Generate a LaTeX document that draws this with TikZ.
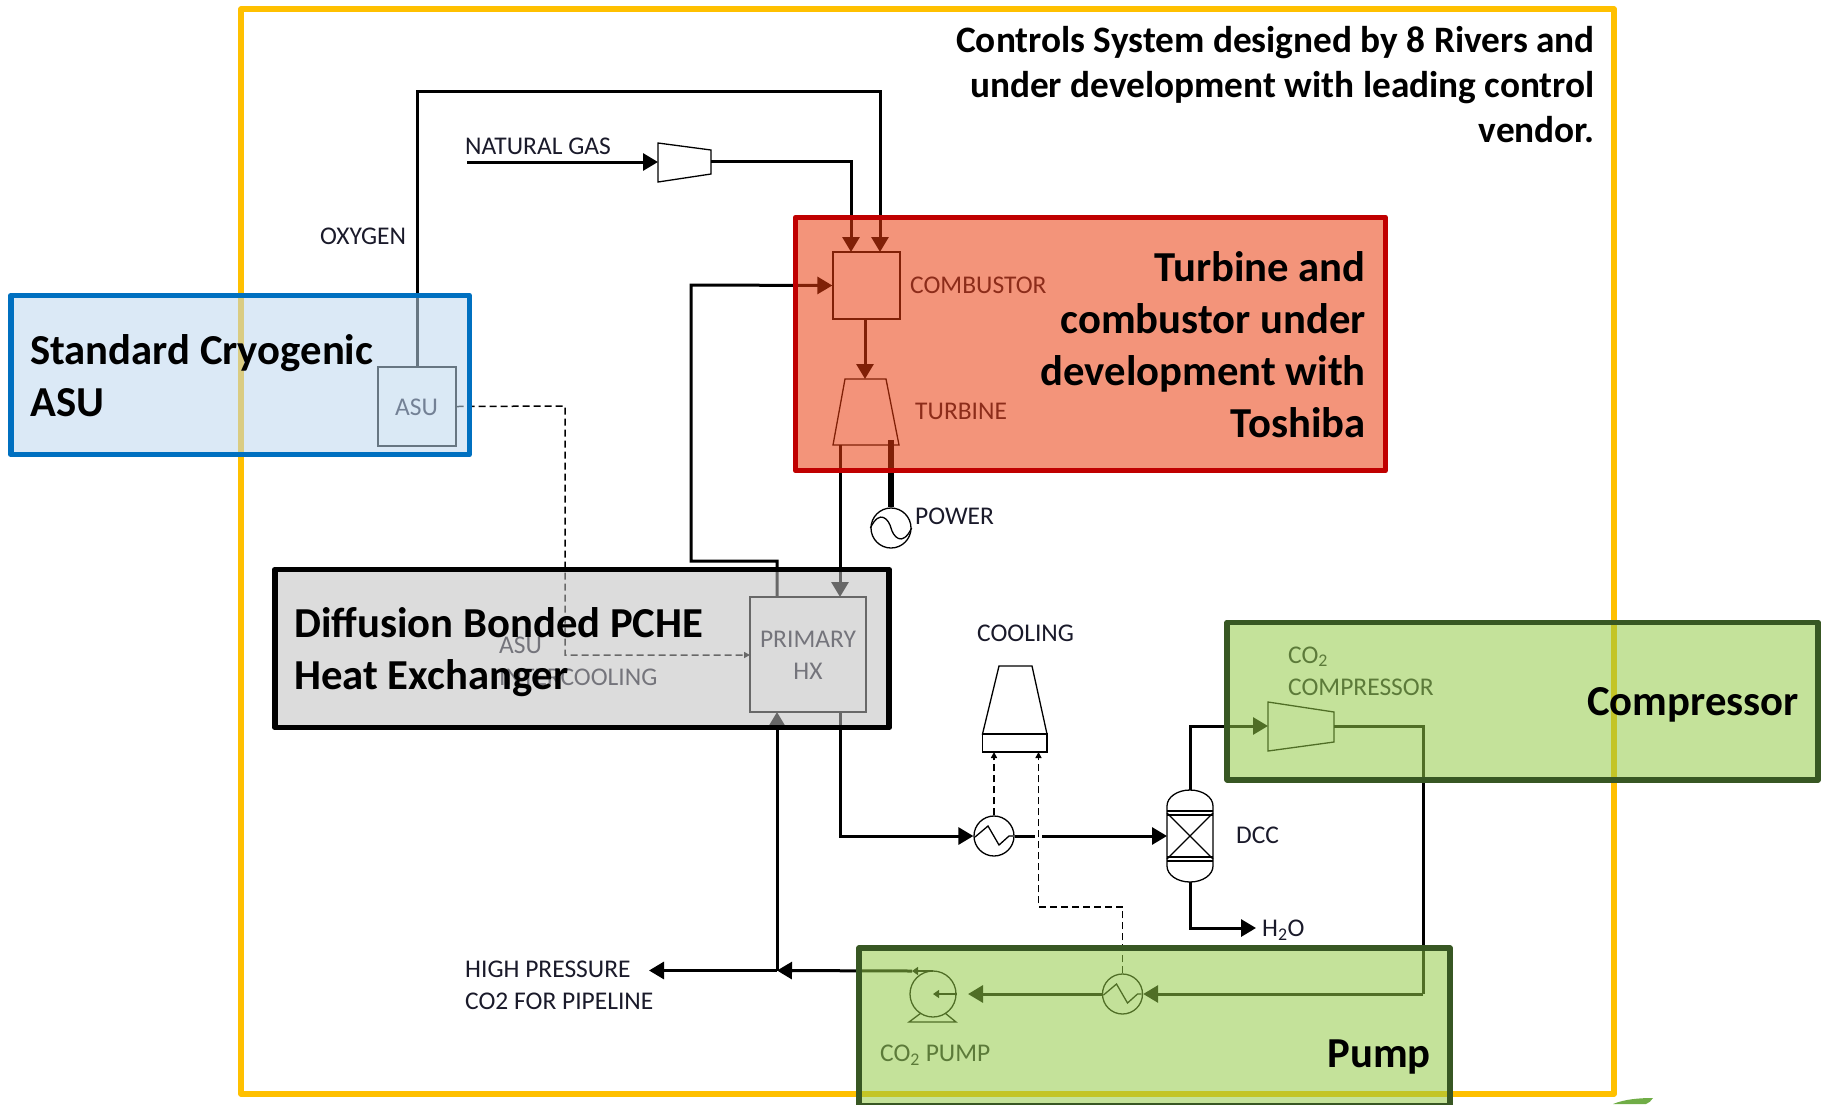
\documentclass[tikz,border=0pt]{standalone}
\usepackage{fontspec}
\setmainfont{Carlito}
\usetikzlibrary{arrows.meta,calc}
\definecolor{yframe}{HTML}{FFC000}
\definecolor{lab}{HTML}{1A1A2A}
\definecolor{tblue}{RGB}{189,215,238}
\definecolor{tred}{RGB}{234,60,13}
\definecolor{tgray}{RGB}{191,191,191}
\definecolor{tgreen}{RGB}{147,202,71}
\definecolor{eblue}{RGB}{0,112,192}
\definecolor{ered}{RGB}{192,0,0}
\definecolor{egreen}{RGB}{56,87,35}
\definecolor{leaf}{RGB}{112,173,71}
\tikzset{
  x=1pt,y=-1pt,
  flow/.style={line width=3pt,-{Triangle[length=15pt,width=17pt]}},
  plain/.style={line width=3pt},
  ctrl/.style={line width=1.5pt,dash pattern=on 7pt off 4pt},
  equip/.style={draw=black,line width=1.3pt,fill=white,inner sep=0pt},
  equipbox/.style={equip,rectangle},
  round eq/.style={equip,circle,minimum size=40pt},
  lbl/.style={font=\fontsize{25.5}{32}\selectfont,text=lab,inner sep=0pt,anchor=west},
  big/.style={font=\bfseries\fontsize{42.7}{52}\selectfont,text=black,inner sep=0pt,align=left},
  tint/.style={fill opacity=.55,draw=none},
  edge/.style={line width=5.5pt,line join=round,fill=none,inner sep=0pt},
}
\newcommand{\wavy}[1]{\draw[line width=1.3pt] ($(#1)+(-19,1)$) -- ($(#1)+(-6,-10)$) -- ($(#1)+(5,9)$) -- ($(#1)+(15,0)$) -- ($(#1)+(19,0)$);}
\begin{document}
\begin{tikzpicture}
\useasboundingbox (0,0) rectangle (1823,1104);
% outer frame
\draw[yframe,line width=5.5pt,line join=round] (241,9) rectangle (1614,1094);

% equipment
\node[equipbox,minimum width=78pt,minimum height=79pt] (asu) at (417,406.5) {};
\node[equipbox,minimum width=67pt,minimum height=67pt] (comb) at (866.5,285.5) {};
\node[equipbox,minimum width=116pt,minimum height=115pt] (hx) at (808,654.5) {};
\node[round eq] (gen) at (891,528) {};
\node[round eq] (hxa) at (994,836) {};
\node[round eq] (hxb) at (1122.5,994) {};
\node[equip,circle,minimum size=46pt] (pump) at (933,994) {};
\draw[line width=1.3pt] (gen.west) .. controls (880,508) and (889,520) .. (891,528) .. controls (893,536) and (902,548) .. (gen.east);
\wavy{hxa}
\wavy{hxb}
\draw[line width=1.3pt] (921,1013) -- (909,1022) -- (956,1022) -- (945,1013);
% machines
\draw[equip] (658,143) -- (711,150) -- (711,174) -- (658,182) -- cycle;
\draw[equip] (845,379) -- (886,379) -- (899,445) -- (833,445) -- cycle;
\draw[equip] (1268,702) -- (1334,712) -- (1334,742) -- (1268,751) -- cycle;
\draw[equip] (999,666) -- (1032,666) -- (1047,734) -- (982.5,734) -- cycle;
\node[equipbox,minimum width=64.5pt,minimum height=18pt] (tower) at (1014.75,743) {};
% DCC vessel
\draw[equip] (1167,813) -- (1167,806) arc[start angle=180,end angle=360,x radius=23,y radius=16] -- (1213,866) arc[start angle=0,end angle=180,x radius=23,y radius=16] -- cycle;
\draw[line width=1.3pt] (1167,811) -- (1213,811) (1167,815) -- (1213,815) (1167,857) -- (1213,857) (1167,861) -- (1213,861);
\draw[line width=1.3pt] (1167,813) -- (1213,859) (1213,813) -- (1167,859);
\coordinate (dcctop) at (1190,790);
\coordinate (dccbot) at (1190,882);
\coordinate (dccin) at (1167,836);

% ports
\coordinate (nginlet) at (467,162);
\coordinate (ngin) at (658,162);
\coordinate (ngout) at (711,161);
\coordinate (combn1) at (851,252);
\coordinate (combn2) at (880,252);
\coordinate (oxtop) at (417,91);
\coordinate (turbtop) at (865,379);
\coordinate (turbout) at (840,445);
\coordinate (shaft) at (891,440);
\coordinate (hxin) at (840,597);
\coordinate (hxout) at (840,712);
\coordinate (hxret) at (777,597);
\coordinate (hxretb) at (777,712);
\coordinate (recb) at (777,561);
\coordinate (rec) at (691,561);
\coordinate (recup) at (691,285);
\coordinate (junc) at (777,970.5);
\coordinate (pipe) at (649,970.5);
\coordinate (gap) at (1035,836);
\coordinate (gapb) at (1042,836);
\coordinate (cmpcorner) at (1190,726);
\coordinate (cmpin) at (1268,726);
\coordinate (cmpout) at (1334,726);
\coordinate (cmpdown) at (1423,726);
\coordinate (cmpbot) at (1423,994);
\coordinate (h2o) at (1256,928);
\coordinate (pumpout) at (933,971);
\coordinate (pumpstub) at (912,971);
\coordinate (pumpin) at (968,994);
\coordinate (towerl) at (994,752);
\coordinate (towerr) at (1038.5,752);
\coordinate (dashbend) at (1038.5,907);
\coordinate (dasha) at (565,406);
\coordinate (dashb) at (565,655);
\coordinate (dashc) at (750,655);

% connectors
\draw[flow] (asu.north) -- (oxtop) -| (combn2);
\draw[flow] (nginlet) -- (ngin);
\draw[flow] (ngout) -| (combn1);
\draw[flow] (hxret) -- (recb) -- (rec) -- (recup) -- (comb.west);
\draw[flow] (comb.south -| turbtop) -- (turbtop);
\draw[flow] (turbout) -- (hxin);
\draw[line width=6pt] (shaft) -- (gen.north);
\draw[flow] (hxout) |- (hxa.west);
\draw[plain] (hxa.east) -- (gap);
\draw[flow] (gapb) -- (dccin);
\draw[flow] (dcctop) -- (cmpcorner) -- (cmpin);
\draw[flow] (dccbot) |- (h2o);
\draw[plain] (cmpout) -- (cmpdown) -- (cmpbot);
\draw[flow] (cmpbot) -- (hxb.east);
\draw[flow] (hxb.west) -- (pumpin);
\draw[line width=1.3pt,-{Triangle[length=6pt,width=8pt]}] (pump.east) -- (pump.center);
\draw[line width=1.3pt,-{Triangle[length=6pt,width=8pt]}] (pumpout) -- (pumpstub);
\draw[flow] (pumpstub) -- (junc);
\draw[flow] (junc) -- (pipe);
\draw[flow] (junc) -- (hxretb);
% dashed
\draw[ctrl,-{Triangle[length=6pt,width=6pt]}] (asu.east) -- (dasha) -- (dashb) -- (dashc);
\draw[ctrl,-{Triangle[length=6pt,width=6pt]}] (hxa.north) -- (towerl);
\draw[ctrl,-{Triangle[length=6pt,width=6pt]}] (hxb.north) -- (hxb.north |- dashbend) -- (dashbend) -- (towerr);

% labels
\node[lbl] (lox) at (320,236) {OXYGEN};
\node[lbl] (lng) at (465,146) {NATURAL GAS};
\node[lbl] (lasu) at (395,407) {ASU};
\node[lbl] (lcomb) at (910,285) {COMBUSTOR};
\node[lbl] (lturb) at (915,411) {TURBINE};
\node[lbl] (lpow) at (915,516) {POWER};
\node[lbl] (lasu2) at (499,645) {ASU};
\node[lbl] (lint) at (499,677) {INTERCOOLING};
\node[lbl,align=center,anchor=center] (lhx) at (808,655) {PRIMARY\\HX};
\node[lbl] (lcool) at (977,633) {COOLING};
\node[lbl] (ldcc) at (1236,835) {DCC};
\node[lbl] (lh2o) at (1262,930) {H\textsubscript{2}O};
\node[lbl,align=left] (lcmp) at (1288,671) {CO\textsubscript{2}\\COMPRESSOR};
\node[lbl] (lpp) at (880,1055) {CO\textsubscript{2} PUMP};
\node[lbl,align=left] (lhp) at (465,985) {HIGH PRESSURE\\CO2 FOR PIPELINE};

% translucent panels
\path[tint,fill=tblue] (10,295) rectangle (470,455);
\path[tint,fill=tred] (794,217) rectangle (1386,470);
\path[tint,fill=tgray] (274,568) rectangle (890,728);
\path[tint,fill=tgreen] (1226,622) rectangle (1819,780);
\path[tint,fill=tgreen] (858,948) rectangle (1452,1110);
\node[draw=eblue,edge,minimum width=458.5pt,minimum height=159pt] (asupanel) at (240,375) {};
\node[draw=ered,edge,minimum width=590pt,minimum height=253pt] (turbpanel) at (1090.3,344) {};
\node[draw=black,edge,minimum width=614.4pt,minimum height=158pt] (hxpanel) at (582,648.5) {};
\node[draw=egreen,edge,minimum width=591pt,minimum height=157.5pt] (cmppanel) at (1522.7,701) {};
\node[draw=egreen,edge,minimum width=591pt,minimum height=158pt] (pumppanel) at (1154.5,1027) {};

% panel captions
\node[big,anchor=west] (tasu) at (30,375.5) {Standard Cryogenic\\ASU};
\node[big,anchor=east,align=right] (tturb) at (1366,345) {Turbine and\\combustor under\\development with\\Toshiba};
\node[big,anchor=west] (thx) at (294,652.5) {Diffusion Bonded PCHE\\Heat Exchanger};
\node[big,anchor=east] (tcmp) at (1799,705) {Compressor};
\node[big,anchor=east] (tpump) at (1431,1057) {Pump};
\node[big,anchor=north east,align=right,font=\bfseries\fontsize{37.3}{45}\selectfont] (tctl) at (1595,26) {Controls System designed by 8 Rivers and\\under development with leading control\\vendor.};
% leaf at the lower right
\fill[leaf] (1613,1104) .. controls (1625,1099) and (1640,1098) .. (1653,1098) .. controls (1651,1101) and (1649,1103) .. (1646,1104) -- cycle;
\end{tikzpicture}
\end{document}
